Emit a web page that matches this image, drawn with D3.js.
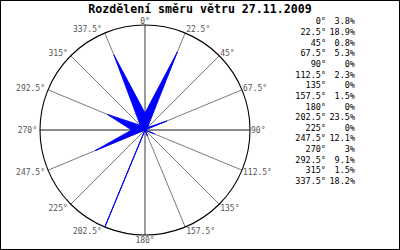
<!DOCTYPE html>
<html><head><meta charset="utf-8">
<script src="https://cdn.jsdelivr.net/npm/d3@7"></script>
<style>html,body{margin:0;padding:0;background:#fff;}svg{display:block;}</style>
</head><body>
<script>
const title = "Rozdělení směru větru 27.11.2009";
const directions = [0, 22.5, 45, 67.5, 90, 112.5, 135, 157.5, 180, 202.5, 225, 247.5, 270, 292.5, 315, 337.5];
const directionLabels = ["0°", "22.5°", "45°", "67.5°", "90°", "112.5°", "135°", "157.5°", "180°", "202.5°", "225°", "247.5°", "270°", "292.5°", "315°", "337.5°"];
const percentages = [3.8, 18.9, 0.8, 5.3, 0, 2.3, 0, 1.5, 0, 23.5, 0, 12.1, 3, 9.1, 1.5, 18.2];

const W = 400, H = 250, cx = 145, cy = 130, R = 105;
const svg = d3.select("body").append("svg").attr("width", W).attr("height", H);
svg.append("rect").attr("x", 0.5).attr("y", 0.5).attr("width", W - 1).attr("height", H - 1)
  .attr("fill", "#fff").attr("stroke", "#000").attr("stroke-width", 1);

svg.append("text").attr("x", 200).attr("y", 13).attr("text-anchor", "middle")
  .attr("font-family", "DejaVu Sans Mono").attr("font-weight", "bold").attr("font-size", 11.6)
  .attr("fill", "#000").text(title);

const ang = d3.scaleLinear().domain([0, 360]).range([0, 2 * Math.PI]);
const rad = d3.scaleLinear().domain([0, d3.max(percentages)]).range([0, R]);
const g = svg.append("g").attr("transform", `translate(${cx},${cy})`);

// spokes
g.selectAll("line.spoke").data(directions).join("line")
  .attr("x1", 0).attr("y1", 0)
  .attr("x2", d => R * Math.sin(ang(d))).attr("y2", d => -R * Math.cos(ang(d)))
  .attr("stroke", d => d % 90 === 0 ? "#666" : "#6c6c6c")
  .attr("stroke-width", d => d % 90 === 0 ? 1.3 : 0.9);

// circle
g.append("circle").attr("r", R).attr("fill", "none").attr("stroke", "#000").attr("stroke-width", 1.1);

// rose polygon
const line = d3.lineRadial().angle((d, i) => ang(directions[i])).radius(d => rad(d)).curve(d3.curveLinearClosed);
g.append("path").attr("d", line(percentages)).attr("fill", "#0000ff").attr("stroke", "#0000ff").attr("stroke-width", 0.9);

// angle labels
g.selectAll("text.lab").data(directions).join("text")
  .attr("x", d => { const s = Math.sin(ang(d)); return R * s + (s > 0.01 ? 1 : s < -0.01 ? -3 : 0); })
  .attr("y", d => -R * Math.cos(ang(d)) - Math.cos(ang(d)) * 4.5 + 0.5)
  .attr("dy", "0.35em")
  .attr("text-anchor", d => { const s = Math.sin(ang(d)); return s > 0.01 ? "start" : s < -0.01 ? "end" : "middle"; })
  .attr("font-family", "DejaVu Sans Mono").attr("font-size", 8).attr("fill", "#555")
  .text((d, i) => directionLabels[i]);

// legend
const leg = svg.append("g").attr("font-family", "DejaVu Sans Mono").attr("font-size", 8.5).attr("fill", "#000");
const rowY = d3.scaleLinear().domain([0, 15]).range([21.5, 181]);
leg.selectAll("text.a").data(directionLabels).join("text")
  .attr("x", 326).attr("y", (d, i) => rowY(i)).attr("dy", "0.35em").attr("text-anchor", "end").text(d => d);
leg.selectAll("text.p").data(percentages).join("text")
  .attr("x", 355).attr("y", (d, i) => rowY(i)).attr("dy", "0.35em").attr("text-anchor", "end").text(d => d + "%");
</script>
</body></html>
